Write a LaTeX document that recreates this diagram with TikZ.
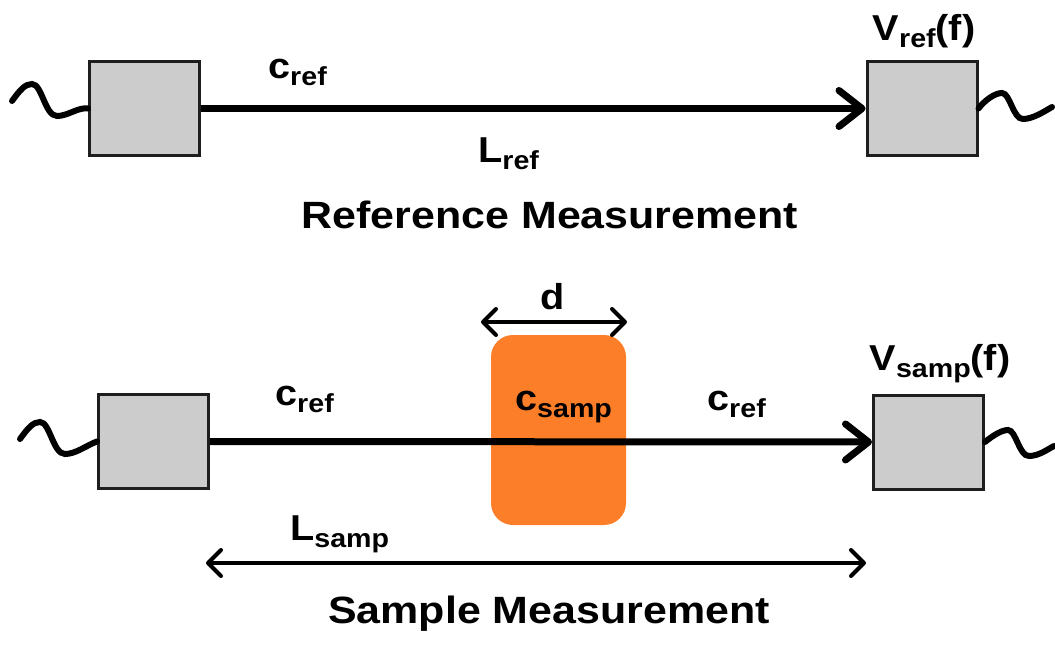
\documentclass[tikz,border=0pt]{standalone}
\usepackage{fontspec}
\setmainfont{Liberation Sans}[FakeStretch=1.1]
\newfontfamily\headfont{Liberation Sans}[FakeStretch=1.13]
\usetikzlibrary{arrows.meta}
\definecolor{boxgray}{RGB}{204,204,204}
\definecolor{boxedge}{RGB}{30,30,30}
\definecolor{slab}{RGB}{252,126,40}
% symbol with a lowered subscript
\newcommand\withsub[2]{#1\raisebox{-7pt}{\fontsize{26}{26}\selectfont #2}}
\begin{document}
\begin{tikzpicture}[x=1pt,y=-1pt,
  device/.style={draw=boxedge,line width=3pt,fill=boxgray,minimum width=110pt,minimum height=94pt,inner sep=0pt},
  beam/.style={line width=7pt,-{Straight Barb[length=23pt,width=36pt,round]}},
  span/.style={line width=4pt,{Straight Barb[length=13pt,width=26pt,round]}-{Straight Barb[length=13pt,width=26pt,round]}},
  wave/.style={line width=6pt,line cap=round},
  lbl/.style={font=\fontsize{36}{40}\selectfont\bfseries,inner sep=0pt},
  heading/.style={font=\headfont\fontsize{38}{44}\selectfont\bfseries,inner sep=0pt}]
\useasboundingbox (0,0) rectangle (1055,645);

% ---- reference measurement ----
\node[device] (tx1) at (144.5,108.5) {};
\node[device] (rx1) at (922,108.5) {};
\draw[wave] (12,101) .. controls (20,90) and (25,84) .. (32,84)
  .. controls (42,84) and (45,116) .. (57,116)
  .. controls (68,116) and (78,107) .. (tx1.west);
\draw[wave] (rx1.east) .. controls (985,100) and (995,93) .. (1002,93)
  .. controls (1010,93) and (1013,119) .. (1023,119)
  .. controls (1033,119) and (1045,111) .. (1052,107);
\draw[beam] (tx1.east) -- (rx1.west);
\node[lbl,anchor=base west] (c1) at (268,78) {\withsub{c}{ref}};
\node[lbl,anchor=base west] (L1) at (478,162) {\withsub{L}{ref}};
\node[lbl,anchor=base] (V1) at (924,40) {\withsub{V}{ref}(f)};
\node[heading,anchor=base] (t1) at (550,228) {Reference Measurement};

% ---- sample measurement ----
\node[fill=slab,rounded corners=22pt,minimum width=135pt,minimum height=190pt,inner sep=0pt] (sample) at (558.5,430) {};
\node[device] (tx2) at (153.5,441.5) {};
\node[device] (rx2) at (928.5,442) {};
\draw[wave] (20,439) .. controls (28,428) and (33,422) .. (40,422)
  .. controls (50,422) and (53,454) .. (65,454)
  .. controls (76,454) and (87,445) .. (tx2.west);
\draw[wave] (rx2.east) .. controls (991,437) and (1001,430) .. (1008,430)
  .. controls (1016,430) and (1019,456) .. (1029,456)
  .. controls (1039,456) and (1048,449) .. (1054,446);
\draw[beam] (tx2.east) -- (rx2.west);
\coordinate (dl) at (481,322);
\coordinate (dr) at (627,322);
\draw[span] (dl) -- (dr);
\node[lbl,anchor=base] (d) at (553,309) {d};
\node[lbl,anchor=base west] (c2) at (275,405) {\withsub{c}{ref}};
\node[lbl,anchor=base west] (cs) at (515,410) {\withsub{c}{samp}};
\node[lbl,anchor=base west] (c3) at (707,410) {\withsub{c}{ref}};
\node[lbl,anchor=base] (V2) at (940,370) {\withsub{V}{samp}(f)};
\coordinate (Ll) at (206,563);
\coordinate (Lr) at (866,563);
\draw[span] (Ll) -- (Lr);
\node[lbl,anchor=base west] (L2) at (290,540) {\withsub{L}{samp}};
\node[heading,anchor=base] (t2) at (549,623) {Sample Measurement};
\end{tikzpicture}
\end{document}
